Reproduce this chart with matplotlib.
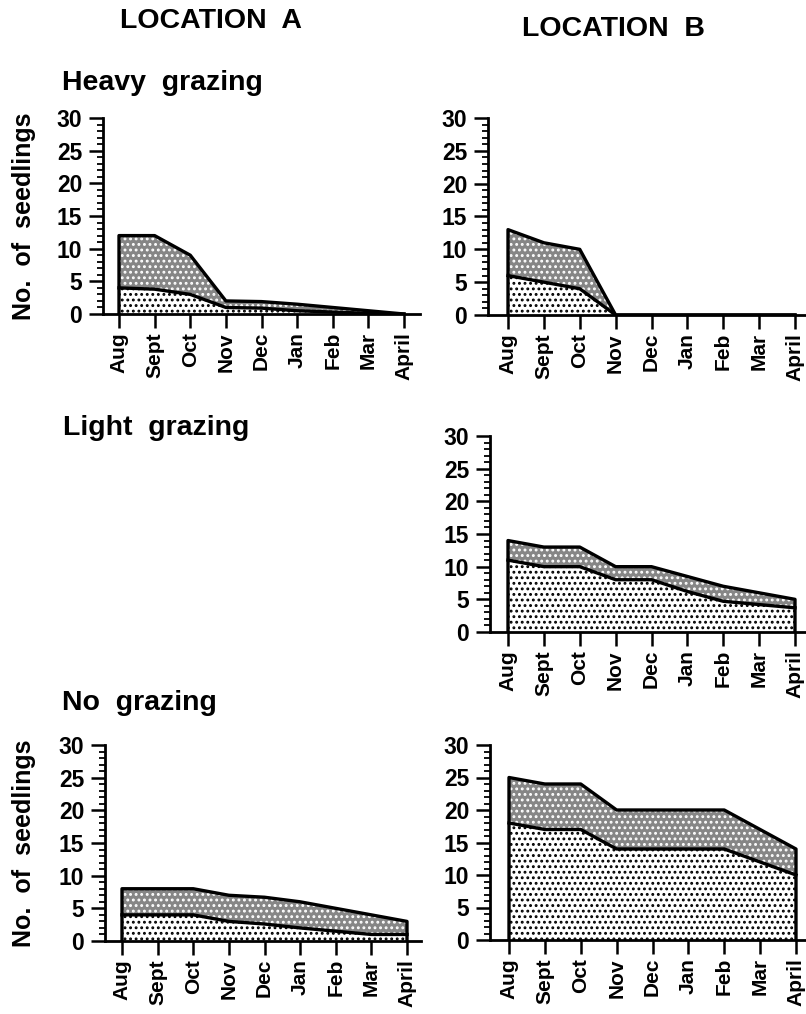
import numpy as np
import matplotlib
matplotlib.use('Agg')
import matplotlib.pyplot as plt
from matplotlib.ticker import MultipleLocator

plt.rcParams['font.family'] = ['Liberation Sans', 'DejaVu Sans']
plt.rcParams['font.weight'] = 'bold'
plt.rcParams['hatch.linewidth'] = 1.3

# Daten
months = ['Aug', 'Sept', 'Oct', 'Nov', 'Dec', 'Jan', 'Feb', 'Mar', 'April']

heavy_a_total = [12, 12, 9, 2, 1.9, 1.5, 1, 0.5, 0]
heavy_a_lower = [4, 3.8, 3, 1, 0.9, 0.5, 0.3, 0.1, 0]

heavy_b_total = [13, 11, 10, 0, 0, 0, 0, 0, 0]
heavy_b_lower = [6, 5, 4, 0, 0, 0, 0, 0, 0]

light_b_total = [14, 13, 13, 10, 10, 8.5, 7, 6, 5]
light_b_lower = [11, 10, 10, 8, 8, 6.2, 4.7, 4.2, 3.7]

none_a_total = [8, 8, 8, 7, 6.7, 6, 5, 4, 3]
none_a_lower = [4, 4, 4, 3, 2.6, 2, 1.5, 1, 1]

none_b_total = [25, 24, 24, 20, 20, 20, 20, 17, 14]
none_b_lower = [18, 17, 17, 14, 14, 14, 14, 12, 10]

W, H = 806, 1014
fig = plt.figure(figsize=(W / 100, H / 100), dpi=100)


def panel(spine, aug, apr, right, y30, y0, total, lower, ylabel=False):
    step = (apr - aug) / 8
    ax = fig.add_axes([spine / W, 1 - y0 / H, (right - spine) / W, (y0 - y30) / H])
    x = np.arange(len(months))
    ax.fill_between(x, 0, lower, facecolor='white', edgecolor='black', hatch='...', linewidth=0)
    ax.fill_between(x, lower, total, facecolor='#868686', linewidth=0)
    ax.fill_between(x, lower, total, facecolor='none', edgecolor='white', hatch='...', linewidth=0)
    ax.plot(x, lower, color='black', lw=2.4)
    ax.plot(np.r_[x[0], x, x[-1]], np.r_[0, total, 0], color='black', lw=2.4)
    ax.set_xlim((spine - aug) / step, (right - aug) / step)
    ax.set_ylim(0, 30)
    ax.set_xticks(x)
    ax.set_xticklabels(months)
    ax.set_yticks(range(0, 31, 5))
    ax.yaxis.set_minor_locator(MultipleLocator(1))
    ax.tick_params(axis='y', which='major', length=10, width=1.8, labelsize=16.5, pad=5)
    ax.tick_params(axis='y', which='minor', length=4, width=1.3)
    ax.tick_params(axis='x', length=10, width=1.8, labelsize=15, pad=3, labelrotation=90)
    for s in ['top', 'right']:
        ax.spines[s].set_visible(False)
    for s in ['left', 'bottom']:
        ax.spines[s].set_linewidth(2.0)
    ax.patch.set_alpha(0)
    if ylabel:
        fig.text(24 / W, 1 - (y30 + y0) / 2 / H, 'No.  of  seedlings', rotation=90,
                 ha='center', va='center', fontsize=18, fontweight='bold')
    return ax


panel(103, 119, 404, 420, 118, 314, heavy_a_total, heavy_a_lower, ylabel=True)
panel(488, 508, 795, 812, 118, 315, heavy_b_total, heavy_b_lower)
panel(490, 508, 795, 812, 436, 632, light_b_total, light_b_lower)
panel(105, 122, 407, 421, 745, 941, none_a_total, none_a_lower, ylabel=True)
panel(490, 509, 796, 812, 745, 940, none_b_total, none_b_lower)

fig.text(211 / W, 1 - 28 / H, 'LOCATION  A', ha='center', va='baseline', fontsize=20.5, fontweight='bold')
fig.text(613 / W, 1 - 36 / H, 'LOCATION  B', ha='center', va='baseline', fontsize=20.5, fontweight='bold')
fig.text(62 / W, 1 - 90 / H, 'Heavy  grazing', ha='left', va='baseline', fontsize=20.5, fontweight='bold')
fig.text(63 / W, 1 - 435 / H, 'Light  grazing', ha='left', va='baseline', fontsize=20.5, fontweight='bold')
fig.text(62 / W, 1 - 710 / H, 'No  grazing', ha='left', va='baseline', fontsize=20.5, fontweight='bold')

fig.savefig('out.png', dpi=100)
